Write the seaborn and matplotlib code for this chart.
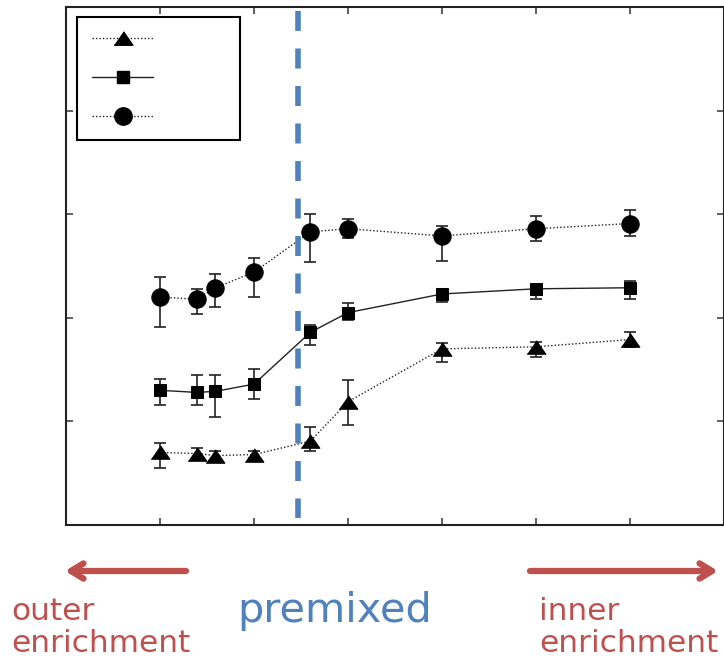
import matplotlib
matplotlib.use("Agg")
import matplotlib.pyplot as plt
from matplotlib.lines import Line2D
import seaborn as sns

# ---- data ----
x_pos = [1.0, 1.39, 1.59, 2.0, 2.6, 3.0, 4.0, 5.0, 6.0]

circ_y = [2.20, 2.18, 2.29, 2.44, 2.83, 2.86, 2.79, 2.86, 2.91]
circ_up = [0.19, 0.10, 0.13, 0.14, 0.17, 0.09, 0.10, 0.12, 0.13]
circ_lo = [0.29, 0.14, 0.19, 0.24, 0.29, 0.09, 0.24, 0.12, 0.12]

sq_y = [1.30, 1.28, 1.29, 1.36, 1.86, 2.05, 2.23, 2.28, 2.29]
sq_up = [0.11, 0.17, 0.16, 0.15, 0.07, 0.09, 0.04, 0.04, 0.07]
sq_lo = [0.14, 0.12, 0.25, 0.14, 0.12, 0.07, 0.08, 0.10, 0.11]

tri_y = [0.70, 0.69, 0.67, 0.68, 0.81, 1.19, 1.70, 1.72, 1.79]
tri_up = [0.09, 0.05, 0.04, 0.03, 0.14, 0.21, 0.06, 0.05, 0.07]
tri_lo = [0.15, 0.05, 0.04, 0.03, 0.10, 0.22, 0.13, 0.10, 0.07]

premixed_x = 2.47
x_ticks = list(range(8))
y_ticks = list(range(6))

RED = "#C0504D"
BLUE = "#4F81BD"

sns.set_style("white")
plt.rcParams["font.family"] = ["DejaVu Sans"]

fig = plt.figure(figsize=(7.24, 6.59), dpi=100)
ax = fig.add_axes([66 / 724, 1 - 525 / 659, (724 - 66) / 724, 518 / 659])

tri_marker = [(-1, -0.72), (1, -0.72), (0, 0.72)]

series = [
    (tri_y, tri_up, tri_lo, tri_marker, (0, (1, 1.5)), 13.5),
    (sq_y, sq_up, sq_lo, "s", "-", 9.0),
    (circ_y, circ_up, circ_lo, "o", (0, (1, 1.5)), 12.5),
]

for ys, up, lo, mk, ls, ms in series:
    ax.errorbar(x_pos, ys, yerr=[lo, up], fmt="none", ecolor="#222222",
                elinewidth=1.2, capsize=4, capthick=1.2, zorder=2)
    sns.lineplot(x=x_pos, y=ys, ax=ax, color="#222222", linewidth=1.0,
                 linestyle=ls, marker=mk, markersize=ms,
                 markerfacecolor="black", markeredgecolor="black",
                 zorder=3)

# premixed dashed line
ax.plot([premixed_x, premixed_x], [4.96, 0.07], color=BLUE, linewidth=4.0,
        dashes=(3.6, 3.15), solid_capstyle="butt", dash_capstyle="butt", zorder=4)

ax.set_xlim(0, 7)
ax.set_ylim(0, 5)
ax.set_xticks(x_ticks)
ax.set_yticks(y_ticks)
ax.set_xticklabels([])
ax.set_yticklabels([])
ax.set_xlabel("")
ax.set_ylabel("")
ax.tick_params(direction="in", length=5, width=1.2, color="#444444",
               top=True, right=True, bottom=True, left=True)
for sp in ax.spines.values():
    sp.set_color("#222222")
    sp.set_linewidth(1.5)

# legend (no labels)
handles = [
    Line2D([], [], color="#222222", lw=1.0, ls=(0, (1, 1.5)), marker=tri_marker,
           markersize=13.5, markerfacecolor="black", markeredgecolor="black"),
    Line2D([], [], color="#222222", lw=1.0, ls="-", marker="s",
           markersize=9.0, markerfacecolor="black", markeredgecolor="black"),
    Line2D([], [], color="#222222", lw=1.0, ls=(0, (1, 1.5)), marker="o",
           markersize=12.5, markerfacecolor="black", markeredgecolor="black"),
]
leg = ax.legend(handles, [" ", " ", " "], loc="upper left",
                bbox_to_anchor=(11 / 658, 0.5, 163 / 658, 1 - 10 / 518 - 0.5),
                mode="expand", borderaxespad=0, handlelength=4.4,
                labelspacing=1.8, borderpad=1.1, frameon=True, fancybox=False,
                edgecolor="black", framealpha=1)
leg.get_frame().set_linewidth(1.5)

# annotations below
ax.annotate("", xy=(65 / 724, 1 - 571 / 659), xytext=(186 / 724, 1 - 571 / 659),
            xycoords="figure fraction", textcoords="figure fraction",
            arrowprops=dict(arrowstyle="->,head_length=0.9,head_width=0.55",
                            color=RED, lw=4.5, shrinkA=0, shrinkB=0),
            annotation_clip=False)
ax.annotate("", xy=(718 / 724, 1 - 571 / 659), xytext=(530 / 724, 1 - 571 / 659),
            xycoords="figure fraction", textcoords="figure fraction",
            arrowprops=dict(arrowstyle="->,head_length=0.9,head_width=0.55",
                            color=RED, lw=4.5, shrinkA=0, shrinkB=0),
            annotation_clip=False)

fig.text(11 / 724, 1 - 652 / 659, "outer\nenrichment", color=RED, fontsize=22.5,
         ha="left", va="baseline", linespacing=1.15)
fig.text(539 / 724, 1 - 652 / 659, "inner\nenrichment", color=RED, fontsize=22.5,
         ha="left", va="baseline", linespacing=1.15)
fig.text(237 / 724, 1 - 622 / 659, "premixed", color=BLUE, fontsize=29.8,
         ha="left", va="baseline")

fig.savefig("out.png", dpi=100)
